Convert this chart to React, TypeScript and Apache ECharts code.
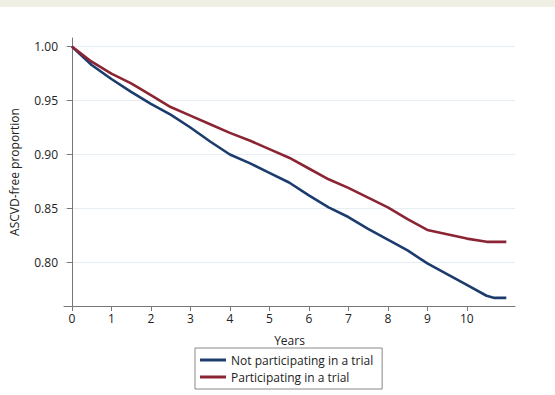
import React, { useEffect, useRef } from "react";
import * as echarts from "echarts";

const years = [0, 0.5, 1, 1.5, 2, 2.5, 3, 3.5, 4, 4.5, 5, 5.5, 6, 6.5, 7, 7.5, 8, 8.5, 9, 9.5, 10, 10.5, 10.7, 11];
const notParticipating = [1.0, 0.983, 0.97, 0.958, 0.947, 0.937, 0.925, 0.912, 0.9, 0.892, 0.883, 0.874, 0.862, 0.851, 0.842, 0.831, 0.821, 0.811, 0.799, 0.789, 0.779, 0.769, 0.767, 0.767];
const participating = [1.0, 0.986, 0.975, 0.966, 0.955, 0.944, 0.936, 0.928, 0.92, 0.913, 0.905, 0.897, 0.887, 0.877, 0.869, 0.86, 0.851, 0.84, 0.83, 0.826, 0.822, 0.819, 0.819, 0.819];
const xTicks = [0, 1, 2, 3, 4, 5, 6, 7, 8, 9, 10];
const yTicks = [0.8, 0.85, 0.9, 0.95, 1.0];
const seriesNames = ["Not participating in a trial", "Participating in a trial"];

export default function App() {
  const ref = useRef<HTMLDivElement>(null);
  useEffect(() => {
    document.body.style.margin = "0";
    const chart = echarts.init(ref.current!, null, { renderer: "svg" });
    const font = "'Open Sans', 'Liberation Sans', sans-serif";
    chart.setOption({
      animation: false,
      backgroundColor: "#ffffff",
      graphic: [
        { type: "rect", left: 0, top: 0, shape: { width: 555, height: 7 }, style: { fill: "#f0efe3" }, silent: true },
      ],
      grid: { left: 62, right: 40, top: 38, bottom: 89 },
      xAxis: {
        type: "value",
        min: -0.2,
        max: 11.22,
        name: "Years",
        nameLocation: "middle",
        nameGap: 28,
        nameTextStyle: { fontFamily: font, fontSize: 12, color: "#222" },
        axisLine: { lineStyle: { color: "#777", width: 1 } },
        axisTick: { show: true, length: 5, lineStyle: { color: "#777" }, customValues: xTicks },
        axisLabel: { fontFamily: font, fontSize: 12, color: "#222", margin: 6, customValues: xTicks },
        splitLine: { show: false },
      },
      yAxis: {
        type: "value",
        min: 0.7595,
        max: 1.008,
        name: "ASCVD-free proportion",
        nameLocation: "middle",
        nameGap: 44,
        nameTextStyle: { fontFamily: font, fontSize: 12, color: "#222" },
        axisLine: { show: true, lineStyle: { color: "#777", width: 1 } },
        axisTick: { show: true, length: 5, lineStyle: { color: "#777" }, customValues: yTicks },
        axisLabel: {
          fontFamily: font,
          fontSize: 12,
          color: "#222",
          margin: 6,
          customValues: yTicks,
          formatter: (v: number) => v.toFixed(2),
        },
        splitLine: { show: true, lineStyle: { color: "#e6edf3", width: 1 } },
      },
      legend: {
        orient: "vertical",
        left: 195,
        top: 348,
        padding: [6, 9, 6, 5],
        itemGap: 5,
        itemWidth: 26,
        itemHeight: 3,
        icon: "rect",
        borderColor: "#888",
        borderWidth: 1,
        textStyle: { fontFamily: font, fontSize: 12, color: "#222" },
        data: seriesNames,
      },
      series: [
        {
          name: seriesNames[0],
          type: "line",
          showSymbol: false,
          symbol: "none",
          color: "#1d3c6e",
          lineStyle: { width: 2.6, color: "#1d3c6e" },
          data: years.map((y, i) => [y, notParticipating[i]]),
        },
        {
          name: seriesNames[1],
          type: "line",
          showSymbol: false,
          symbol: "none",
          color: "#8c2533",
          lineStyle: { width: 2.6, color: "#8c2533" },
          data: years.map((y, i) => [y, participating[i]]),
        },
      ],
    });
    return () => chart.dispose();
  }, []);
  return <div ref={ref} style={{ width: 555, height: 395 }} />;
}
